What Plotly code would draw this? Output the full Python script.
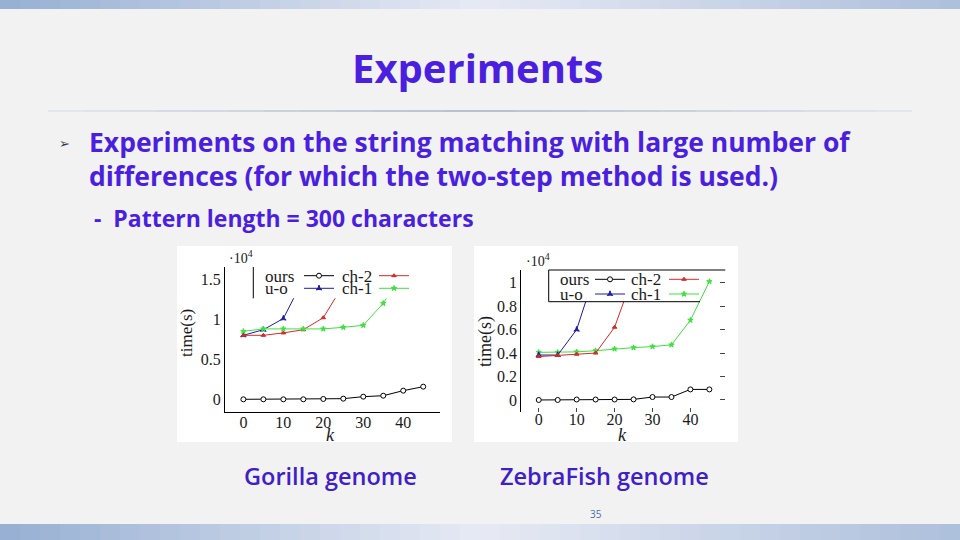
import plotly.graph_objects as go

# ---------------- data (time in units of 10^4 s) ----------------
k_all = [0, 5, 10, 15, 20, 25, 30, 35, 40, 45]

# Gorilla genome
gor_ours = [0, 0, 0, 0, 0.004, 0.008, 0.033, 0.045, 0.108, 0.158]
gor_uo_k = [0, 5, 10, 15]
gor_uo = [0.80, 0.87, 1.01, 1.50]
gor_ch2_k = [0, 5, 10, 15, 20, 25]
gor_ch2 = [0.80, 0.80, 0.83, 0.87, 1.02, 1.43]
gor_ch1_k = [0, 5, 10, 15, 20, 25, 30, 35, 40]
gor_ch1 = [0.85, 0.88, 0.88, 0.88, 0.88, 0.90, 0.925, 1.20, 1.60]

# ZebraFish genome
zf_ours = [0, 0, 0.004, 0.004, 0.004, 0.005, 0.025, 0.025, 0.09, 0.09]
zf_uo_k = [0, 5, 10, 15]
zf_uo = [0.383, 0.383, 0.60, 1.10]
zf_ch2_k = [0, 5, 10, 15, 20, 25]
zf_ch2 = [0.37, 0.38, 0.39, 0.40, 0.62, 1.07]
zf_ch1_k = [0, 5, 10, 15, 20, 25, 30, 35, 40, 45]
zf_ch1 = [0.406, 0.406, 0.41, 0.42, 0.435, 0.446, 0.455, 0.47, 0.68, 1.01]

x_ticks = [0, 10, 20, 30, 40]
gor_yticks = [0, 0.5, 1, 1.5]
gor_yticktext = ["0", "0.5", "1", "1.5"]
zf_yticks = [0, 0.2, 0.4, 0.6, 0.8, 1]
zf_yticktext = ["0", "0.2", "0.4", "0.6", "0.8", "1"]

series_names = ["ours", "u-o", "ch-2", "ch-1"]

# ---------------- style ----------------
W, H = 960, 540
def PX(p): return p / W
def PY(p): return 1 - p / H

C_BLACK = "#000000"
C_BLUE = "#1c1ca8"
C_RED = "#d42a2a"
C_GREEN = "#3fe03f"
TXT = "#4a1fe0"
SERIF = "Liberation Serif"

fig = go.Figure()

# ---- geometry of the two plots ----
g_dom_x = [PX(225), PX(440)]
g_dom_y = [PY(411.7), PY(267)]
g_rx = [-4.6, 49.2]
g_ry = [-0.155, 1.654]
g_clip = 1.2625  # bottom of legend box (data units)

z_dom_x = [PX(521.3), PX(725.3)]
z_dom_y = [PY(411.7), PY(270)]
z_rx = [-4.6, 49.2]
z_ry = [-0.10, 1.108]
z_clip = 0.838

def clip_dom(dom, rng, c):
    return [dom[0], dom[0] + (c - rng[0]) / (rng[1] - rng[0]) * (dom[1] - dom[0])]

g_clip_dom = clip_dom(g_dom_y, g_ry, g_clip)
z_clip_dom = clip_dom(z_dom_y, z_ry, z_clip)

def tr(x, y, name, color, symbol, xa, ya, legend, size=5, open_=False):
    return go.Scatter(
        x=x, y=y, name=name, mode="lines+markers",
        line=dict(color=color, width=1),
        marker=dict(symbol=symbol, size=size, color="white" if open_ else color,
                    line=dict(color=color, width=1)),
        xaxis=xa, yaxis=ya, legend=legend, showlegend=True, cliponaxis=True,
    )

# Gorilla traces
fig.add_trace(tr(k_all, gor_ours, "ours", C_BLACK, "circle", "x", "y", "legend", 5, True))
fig.add_trace(tr(gor_uo_k, gor_uo, "u-o", C_BLUE, "star-triangle-up", "x3", "y3", "legend2", 4))
fig.add_trace(tr(gor_ch2_k, gor_ch2, "ch-2", C_RED, "triangle-up", "x3", "y3", "legend3", 4))
fig.add_trace(tr(gor_ch1_k, gor_ch1, "ch-1", C_GREEN, "star", "x3", "y3", "legend4", 4))
# ZebraFish traces
fig.add_trace(tr(k_all, zf_ours, "ours", C_BLACK, "circle", "x2", "y2", "legend5", 5, True))
fig.add_trace(tr(zf_uo_k, zf_uo, "u-o", C_BLUE, "star-triangle-up", "x4", "y4", "legend6", 4))
fig.add_trace(tr(zf_ch2_k, zf_ch2, "ch-2", C_RED, "triangle-up", "x4", "y4", "legend7", 4))
fig.add_trace(tr(zf_ch1_k, zf_ch1, "ch-1", C_GREEN, "star", "x2", "y6", "legend8", 4))

tickfont = dict(family=SERIF, size=16, color="#1a1a1a")
hidden = dict(visible=False, showgrid=False, zeroline=False)

layout = dict(
    width=W, height=H, margin=dict(l=0, r=0, t=0, b=0),
    paper_bgcolor="#f2f2f2", plot_bgcolor="rgba(0,0,0,0)",
    showlegend=True,
    xaxis=dict(domain=g_dom_x, range=g_rx, anchor="y", tickvals=x_ticks,
               showline=True, linecolor="black", linewidth=1, ticks="",
               showgrid=False, zeroline=False, tickfont=tickfont, ticklabelstandoff=-4),
    yaxis=dict(domain=g_dom_y, range=g_ry, anchor="x", tickvals=gor_yticks,
               ticktext=gor_yticktext, showline=True, linecolor="black", linewidth=1,
               ticks="", showgrid=False, zeroline=False, tickfont=tickfont),
    xaxis3=dict(domain=g_dom_x, range=g_rx, anchor="y3", **hidden),
    yaxis3=dict(domain=g_clip_dom, range=[g_ry[0], g_clip], anchor="x3", **hidden),
    yaxis5=dict(overlaying="y", anchor="x", side="right", range=g_ry,
                tickvals=gor_yticks, showticklabels=False, showline=True,
                linecolor="black", linewidth=1, ticks="inside", ticklen=6,
                tickcolor="#333", showgrid=False, zeroline=False),
    xaxis2=dict(domain=z_dom_x, range=z_rx, anchor="y2", tickvals=x_ticks,
                showline=False, ticks="inside", ticklen=4, tickcolor="#444",
                showgrid=False, zeroline=False, tickfont=tickfont, ticklabelstandoff=-4),
    yaxis2=dict(domain=z_dom_y, range=z_ry, anchor="x2", tickvals=zf_yticks,
                ticktext=zf_yticktext, showline=True, linecolor="black", linewidth=1,
                ticks="", showgrid=False, zeroline=False, tickfont=tickfont),
    xaxis4=dict(domain=z_dom_x, range=z_rx, anchor="y4", **hidden),
    yaxis4=dict(domain=z_clip_dom, range=[z_ry[0], z_clip], anchor="x4", **hidden),
    yaxis6=dict(overlaying="y2", anchor="x2", side="right", range=z_ry,
                tickvals=zf_yticks, showticklabels=False, showline=False,
                ticks="inside", ticklen=5, tickcolor="#444",
                showgrid=False, zeroline=False),
)

# legends: one single-entry legend per series, text drawn as annotations (gnuplot style: text then sample)
leg_pos = {
    "legend": (319, 275.7), "legend2": (319, 288.3),
    "legend3": (394, 275.7), "legend4": (394, 288.3),
    "legend5": (610, 279.3), "legend6": (610, 294.0),
    "legend7": (684, 279.3), "legend8": (684, 294.0),
}
for lg, (cx, cy) in leg_pos.items():
    layout[lg] = dict(x=PX(cx - 20), y=PY(cy), xanchor="left", yanchor="middle",
                      bgcolor="rgba(0,0,0,0)", borderwidth=0, itemwidth=30,
                      font=dict(size=1, color="rgba(0,0,0,0)"), itemclick=False)
fig.update_layout(**layout)

# ---------------- shapes ----------------
shapes = []
def lerp(a, b, t): return tuple(int(round(a[i] + (b[i] - a[i]) * t)) for i in range(3))
def grad_color(x):
    L, M, R = (150, 175, 211), (231, 234, 244), (172, 191, 220)
    c = lerp(L, M, x / 480) if x <= 480 else lerp(M, R, (x - 480) / 480)
    return "rgb(%d,%d,%d)" % c
n = 48
for i in range(n):
    x0, x1 = i * W / n, (i + 1) * W / n + 0.5
    col = grad_color((x0 + x1) / 2)
    for (y0, y1) in [(0, 9), (524, 540)]:
        shapes.append(dict(type="rect", xref="paper", yref="paper", x0=PX(x0), x1=PX(min(x1, W)),
                           y0=PY(y1), y1=PY(y0), line=dict(width=0), fillcolor=col, layer="below"))
# separator line under title
m = 24
for i in range(m):
    x0 = 48 + i * (912 - 48) / m
    x1 = 48 + (i + 1) * (912 - 48) / m
    t = abs(((x0 + x1) / 2 - 480) / 432)
    c = lerp((184, 192, 205), (228, 232, 238), t)
    shapes.append(dict(type="line", xref="paper", yref="paper", x0=PX(x0), x1=PX(x1),
                       y0=PY(111), y1=PY(111), line=dict(color="rgb(%d,%d,%d)" % c, width=2),
                       layer="below"))
# white chart panels
for (x0, y0, x1, y1) in [(177, 246, 452, 442), (474, 246, 738, 442)]:
    shapes.append(dict(type="rect", xref="paper", yref="paper", x0=PX(x0), x1=PX(x1),
                       y0=PY(y1), y1=PY(y0), line=dict(width=0), fillcolor="white", layer="below"))
# legend box lines
lb = dict(color="black", width=1)
shapes.append(dict(type="line", xref="paper", yref="paper", x0=PX(253.3), x1=PX(253.3),
                   y0=PY(298.3), y1=PY(267), line=lb))
shapes.append(dict(type="line", xref="paper", yref="paper", x0=PX(548.7), x1=PX(548.7),
                   y0=PY(301.7), y1=PY(270), line=lb))
shapes.append(dict(type="line", xref="paper", yref="paper", x0=PX(548.7), x1=PX(725.3),
                   y0=PY(270), y1=PY(270), line=lb))
shapes.append(dict(type="line", xref="paper", yref="paper", x0=PX(548.7), x1=PX(700),
                   y0=PY(301.7), y1=PY(301.7), line=lb))
fig.update_layout(shapes=shapes)

# ---------------- annotations ----------------
ann = []
def A(text, x, y, size, color, family, xanchor="center", yanchor="middle", weight="normal",
      angle=0, style="normal"):
    ann.append(dict(text=text, x=PX(x), y=PY(y), xref="paper", yref="paper", showarrow=False,
                    xanchor=xanchor, yanchor=yanchor, textangle=angle,
                    font=dict(size=size, color=color, family=family, weight=weight, style=style)))

SANS = "Open Sans"
A("Experiments", 477, 68, 40, TXT, SANS, weight="bold")
A("➢", 64, 144, 13, "#3a3a4a", "DejaVu Sans")
A("Experiments on the string matching with large number of", 87, 142, 26.5, TXT, SANS,
  xanchor="left", weight="bold")
A("differences (for which the two-step method is used.)", 87, 176, 26.5, TXT, SANS,
  xanchor="left", weight="bold")
A("-  Pattern length = 300 characters", 92, 218, 23, TXT, SANS, xanchor="left", weight="bold")
A("Gorilla genome", 330, 476, 23.5, "#3f20c8", SANS, weight=600)
A("ZebraFish genome", 604, 476, 23.5, "#3f20c8", SANS, weight=600)
A("35", 596, 514, 10, "#4a6aa8", SANS)

# chart texts
A("·10<sup>4</sup>", 241, 257, 14, "#1a1a1a", SERIF)
A("·10<sup>4</sup>", 538, 260, 14, "#1a1a1a", SERIF)
A("time(s)", 186, 333, 17, "#1a1a1a", SERIF, angle=-90)
A("time(s)", 485, 342, 18, "#1a1a1a", SERIF, angle=-90)
A("k", 330, 435, 18, "#1a1a1a", SERIF, style="italic")
A("k", 622, 435, 18, "#1a1a1a", SERIF, style="italic")

# legend labels (gnuplot style, left of samples)
for name, (x, y) in zip(series_names, [(263, 276), (263, 288.5), (340, 276), (340, 288.5)]):
    A(name, x, y, 17, "#1a1a1a", SERIF, xanchor="left")
for name, (x, y) in zip(series_names, [(558, 279.5), (558, 294), (629, 279.5), (629, 294)]):
    A(name, x, y, 17, "#1a1a1a", SERIF, xanchor="left")

fig.update_layout(annotations=ann)
fig.write_html("out.html", config={"displayModeBar": False},
               post_script="document.body.style.margin='0';")
